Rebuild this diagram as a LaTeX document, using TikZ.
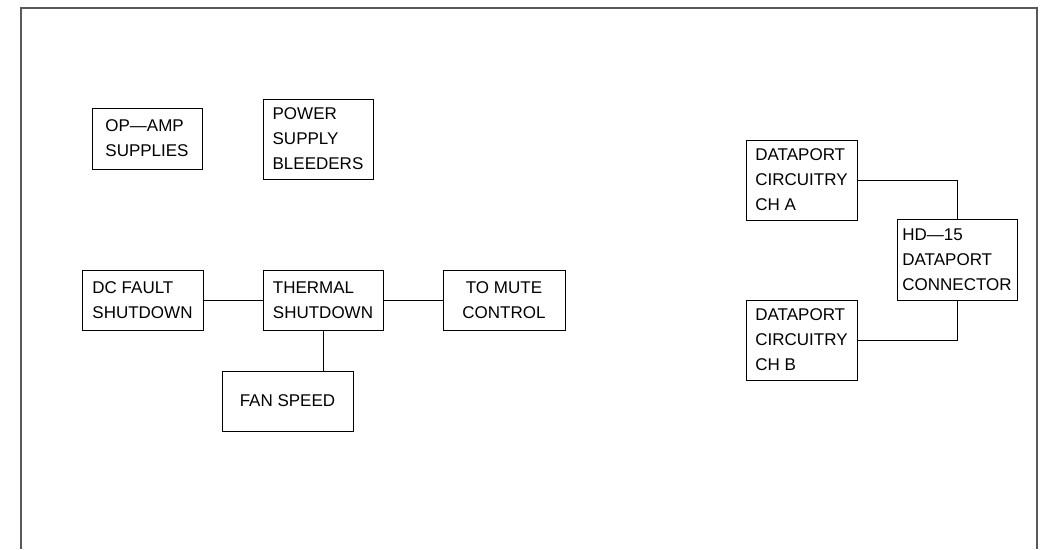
\documentclass[tikz,border=0pt]{standalone}
\usepackage{fontspec}
\setmainfont{Liberation Sans}
\begin{document}
\begin{tikzpicture}[x=1pt, y=-1pt,
        blk/.style={draw, line width=0.8pt, inner sep=0pt, align=left,
            font=\fontsize{17}{25}\selectfont},
        wire/.style={line width=0.8pt}]
    \useasboundingbox (0,0) rectangle (1046,549);
    % sheet border
    \draw [line width=1.3pt, black!65] (21,549) -- (21,8) -- (1037,8) -- (1037,549);
    % supplies
    \node [blk, minimum width=110, minimum height=61] (opamp) at (147,138.5) {OP—AMP\\SUPPLIES};
    \node [blk, minimum width=110, minimum height=80] (bleed) at (318,139) {POWER\\SUPPLY\\BLEEDERS};
    % protection
    \node [blk, minimum width=121, minimum height=60] (dcfault) at (142.5,300) {DC FAULT\\SHUTDOWN};
    \node [blk, minimum width=120, minimum height=60] (thermal) at (323,300) {THERMAL\\SHUTDOWN};
    \node [blk, align=center, minimum width=122, minimum height=60] (mute) at (504,300) {TO MUTE\\CONTROL};
    \node [blk, minimum width=131, minimum height=60] (fan) at (287.5,401) {FAN SPEED};
    \draw [wire] (dcfault.east) -- (thermal.west);
    \draw [wire] (thermal.east) -- (mute.west);
    \draw [wire] (thermal.south) -- (thermal.south |- fan.north);
    % dataport
    \node [blk, minimum width=111, minimum height=80] (cha) at (801.5,180) {DATAPORT\\CIRCUITRY\\CH A};
    \node [blk, minimum width=120, minimum height=81] (hd) at (957,259.5) {HD—15\\DATAPORT\\CONNECTOR};
    \node [blk, minimum width=111, minimum height=80] (chb) at (801.5,340) {DATAPORT\\CIRCUITRY\\CH B};
    \draw [wire] (cha.east) -| (hd.north);
    \draw [wire] (hd.south) |- (chb.east);
\end{tikzpicture}
\end{document}
